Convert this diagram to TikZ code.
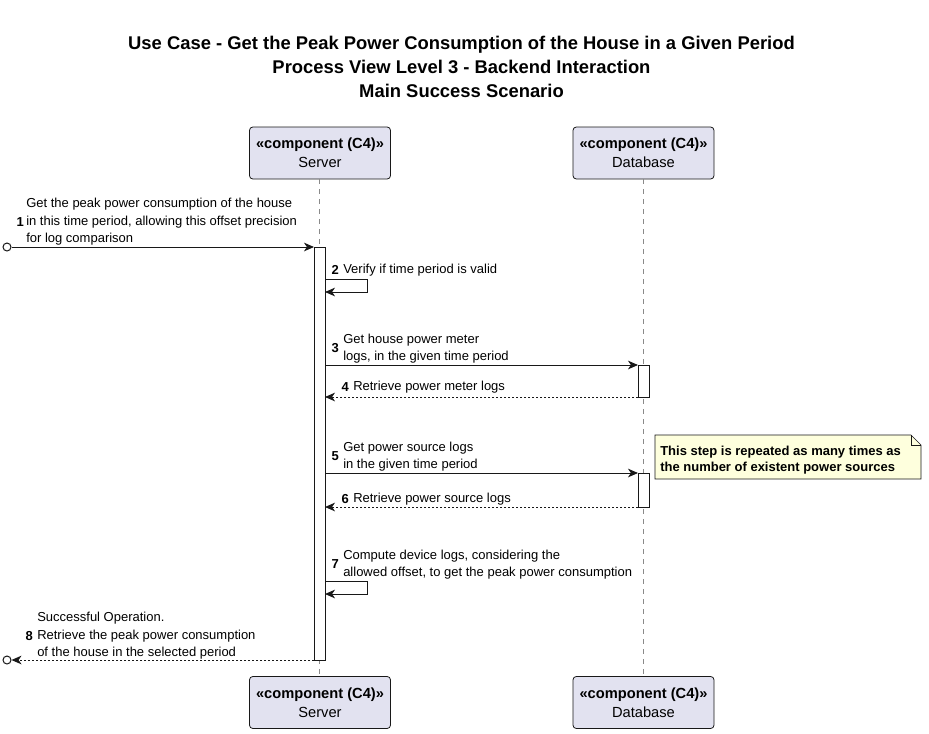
\documentclass[tikz,border=0pt]{standalone}
\usepackage{fontspec}
\setmainfont{Liberation Sans}
\usepackage{tikz}
\usetikzlibrary{arrows.meta,positioning,shapes.misc}
\definecolor{ink}{HTML}{181818}
\definecolor{partfill}{HTML}{E2E2F0}
\definecolor{notefill}{HTML}{FEFFDD}
\definecolor{lifegrey}{HTML}{8A8A8A}
\tikzset{
  msg/.style={draw=ink, line width=0.75pt, -{Stealth[length=7.5pt, width=6.5pt, inset=2.2pt]}},
  reply/.style={msg, dash pattern=on 1.5pt off 1.5pt},
  lifeline/.style={draw=lifegrey, line width=0.6pt, dash pattern=on 3.75pt off 3.75pt},
  act/.style={draw=ink, fill=white, line width=0.75pt},
  part/.style={rectangle, rounded corners=2.5pt, draw=ink, fill=partfill, line width=0.6pt,
    minimum width=105.75pt, minimum height=39pt, align=center, inner sep=0pt,
    font=\fontsize{11}{14.25}\selectfont},
  num/.style={anchor=east, inner sep=0pt, font=\fontsize{9.75}{13.1}\selectfont\bfseries},
  lbl/.style={anchor=west, inner sep=0pt, align=left, font=\fontsize{9.75}{13.1}\selectfont},
  startdot/.style={circle, draw=ink, fill=white, line width=0.75pt, inner sep=0pt, minimum size=6pt}
}
\newcommand{\stereo}{\textbf{«component (C4)»}}
\begin{document}
\begin{tikzpicture}[x=0.75pt, y=-0.75pt]
  \useasboundingbox (0,0) rectangle (929,733);

  % title
  \node[align=center, font=\fontsize{13.8}{18}\selectfont\bfseries] (title) at (461.5,67)
    {Use Case - Get the Peak Power Consumption of the House in a Given Period\\
     Process View Level 3 - Backend Interaction\\
     Main Success Scenario};

  % participants
  \node[part] (srvTop) at (320,153) {\stereo\\Server};
  \node[part] (dbTop) at (643.5,153) {\stereo\\Database};
  \node[part] (srvBot) at (320,702.5) {\stereo\\Server};
  \node[part] (dbBot) at (643.5,702.5) {\stereo\\Database};

  \draw[lifeline] (srvTop.south -| 319.5,0) -- (srvBot.north -| 319.5,0);
  \draw[lifeline] (dbTop.south -| 643.5,0) -- (dbBot.north -| 643.5,0);

  % activations
  \draw[act] (314,247) rectangle (325,660);
  \draw[act] (638,365) rectangle (649,397);
  \draw[act] (638,473) rectangle (649,507);

  % message ends
  \coordinate (m1a) at (10,247);   \coordinate (m1b) at (314,247);
  \coordinate (m2a) at (325,279);  \coordinate (m2b) at (325,292);
  \coordinate (m3a) at (325,365);  \coordinate (m3b) at (638,365);
  \coordinate (m4a) at (638,397);  \coordinate (m4b) at (325,397);
  \coordinate (m5a) at (325,473);  \coordinate (m5b) at (638,473);
  \coordinate (m6a) at (638,507);  \coordinate (m6b) at (325,507);
  \coordinate (m7a) at (325,581);  \coordinate (m7b) at (325,594);
  \coordinate (m8a) at (314,660);  \coordinate (m8b) at (12,660);

  % 1
  \node[startdot] (start) at (7,247) {};
  \draw[msg] (start) -- (m1b);
  \node[num] (n1) at (24,222) {1};
  \node[lbl] (t1) at (26,222) {Get the peak power consumption of the house\\in this time period, allowing this offset precision\\for log comparison};

  % 2
  \draw[msg] (m2a) -- ++(42.5,0) |- (m2b);
  \node[num] (n2) at (339,270) {2};
  \node[lbl] (t2) at (343,270) {Verify if time period is valid};

  % 3, 4
  \draw[msg] (m3a) -- (m3b);
  \node[num] (n3) at (339,348.5) {3};
  \node[lbl] (t3) at (343,348.5) {Get house power meter\\logs, in the given time period};
  \draw[reply] (m4a) -- (m4b);
  \node[num] (n4) at (349,387.5) {4};
  \node[lbl] (t4) at (353,387.5) {Retrieve power meter logs};

  % 5, 6
  \draw[msg] (m5a) -- (m5b);
  \node[num] (n5) at (339,456.5) {5};
  \node[lbl] (t5) at (343,456.5) {Get power source logs\\in the given time period};
  \draw[reply] (m6a) -- (m6b);
  \node[num] (n6) at (349,499.5) {6};
  \node[lbl] (t6) at (353,499.5) {Retrieve power source logs};

  % 7
  \draw[msg] (m7a) -- ++(42.5,0) |- (m7b);
  \node[num] (n7) at (339,564.5) {7};
  \node[lbl] (t7) at (343,564.5) {Compute device logs, considering the\\allowed offset, to get the peak power consumption};

  % 8
  \node[startdot] (finish) at (7,660) {};
  \draw[reply] (m8a) -- (finish);
  \node[num] (n8) at (33,636) {8};
  \node[lbl] (t8) at (37,636) {Successful Operation.\\Retrieve the peak power consumption\\of the house in the selected period};

  % note
  \draw[draw=ink, fill=notefill, line width=0.5pt]
    (655,435) -- (911,435) -- (921,445) -- (921,479) -- (655,479) -- cycle;
  \draw[draw=ink, line width=0.5pt] (911,435) -- (911,445) -- (921,445);
  \node[lbl, font=\fontsize{9.75}{12}\selectfont\bfseries] (note) at (660,460)
    {This step is repeated as many times as\\the number of existent power sources};
\end{tikzpicture}
\end{document}
